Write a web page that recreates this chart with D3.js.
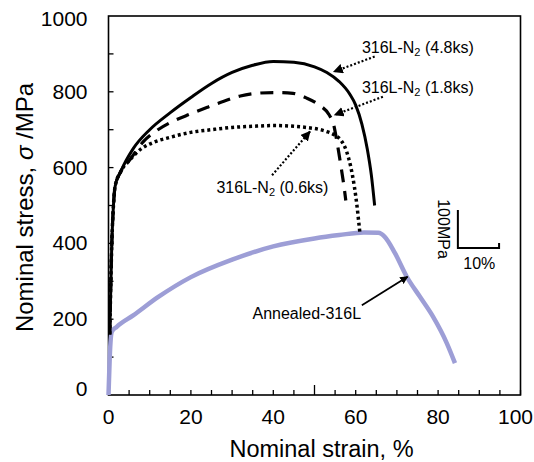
<!DOCTYPE html>
<html>
<head>
<meta charset="utf-8">
<script src="https://cdn.jsdelivr.net/npm/d3@7"></script>
<style>
  body { margin: 0; background: #fff; }
  text { font-family: "Liberation Sans", Arial, sans-serif; fill: #000; }
</style>
</head>
<body>
<svg id="chart" width="534" height="462"></svg>
<script>
// strain (%) / nominal stress (MPa)
var n48Strain = [0.3, 0.8, 1.2, 1.6, 3, 6, 10, 15, 20, 25, 30, 35, 40, 45, 50, 53, 56, 58.5, 60, 61.5, 62.8, 63.8, 64.6];
var n48Stress = [160, 400, 500, 550, 590, 650, 700, 745, 785, 822, 851, 870, 880, 878, 866, 851, 827, 795, 765, 715, 650, 580, 500];

var n18Strain = [0.3, 0.8, 1.2, 1.6, 3, 5, 8.4, 12, 15, 20, 24, 28, 32, 36, 40, 44.8, 48, 51, 53.5, 54.6, 55.5, 56.4, 57.1, 57.6];
var n18Stress = [160, 400, 500, 550, 590, 618, 668, 700, 719, 742, 759, 775, 789, 796, 798, 796, 784, 766, 740, 715, 665, 605, 555, 513];

var n06Strain = [0.3, 0.8, 1.2, 1.6, 3, 5, 8, 11, 15, 20, 25, 30, 35, 40, 45, 48, 51, 53, 55, 56.5, 57.8, 58.8, 59.7, 60.3, 60.8, 61];
var n06Stress = [160, 400, 500, 550, 590, 618, 650, 667, 680, 693, 700, 706, 709, 711, 709, 706, 701, 695, 685, 671, 642, 602, 548, 500, 450, 430];

var annStrain = [0, 0.3, 0.8, 2, 6, 12, 20, 30, 40, 50, 56, 62, 65.5, 67, 69.5, 72.4, 75.6, 78.8, 82.1, 84.1];
var annStress = [0, 100, 167, 180, 210, 258, 311, 357, 392, 413, 422, 429, 428, 418, 375, 312, 259, 206, 137, 84];

var xTicks = [0, 20, 40, 60, 80, 100];
var yTicks = [0, 200, 400, 600, 800, 1000];

var svg = d3.select("#chart"),
    pLeft = 108.5, pRight = 520.5, pTop = 16, pBottom = 395;

var x = d3.scaleLinear().domain([0, 100]).range([pLeft, pRight]);
var y = d3.scaleLinear().domain([0, 1000]).range([pBottom, pTop]);

function pts(xs, ys) { return xs.map(function(v, i) { return [v, ys[i]]; }); }

var line = d3.line()
    .x(function(d) { return x(d[0]); })
    .y(function(d) { return y(d[1]); })
    .curve(d3.curveMonotoneX);

// frame
svg.append("rect")
    .attr("x", pLeft).attr("y", pTop)
    .attr("width", pRight - pLeft).attr("height", pBottom - pTop)
    .attr("fill", "none").attr("stroke", "#000").attr("stroke-width", 1.6);

// inner ticks
svg.append("g").selectAll("line")
    .data(d3.range(0, 101, 5))
    .enter().append("line")
    .attr("x1", function(d) { return x(d); }).attr("x2", function(d) { return x(d); })
    .attr("y1", pBottom).attr("y2", function(d) { return pBottom - (d == 50 ? 10 : 5); })
    .attr("stroke", "#000").attr("stroke-width", 1.3);

svg.append("g").selectAll("line")
    .data(d3.range(100, 1000, 100))
    .enter().append("line")
    .attr("x1", pLeft).attr("x2", pLeft + 5)
    .attr("y1", function(d) { return y(d); }).attr("y2", function(d) { return y(d); })
    .attr("stroke", "#000").attr("stroke-width", 1.3);

// tick labels
svg.append("g").selectAll("text")
    .data(xTicks).enter().append("text")
    .attr("x", function(d) { return d == 100 ? 533 : x(d); })
    .attr("y", pBottom + 29)
    .attr("text-anchor", function(d) { return d == 100 ? "end" : "middle"; })
    .style("font-size", "21px")
    .text(function(d) { return d; });

svg.append("g").selectAll("text")
    .data(yTicks).enter().append("text")
    .attr("x", pLeft - 21)
    .attr("y", function(d) { return y(d) + 7 - (d == 0 ? 6 : 0) + (d == 1000 ? 3 : 0); })
    .attr("text-anchor", "end")
    .style("font-size", "21px")
    .text(function(d) { return d; });

// axis titles
svg.append("text")
    .attr("x", (pLeft + pRight) / 2 + 7).attr("y", 457)
    .attr("text-anchor", "middle")
    .style("font-size", "23.5px")
    .text("Nominal strain, %");

var yt = svg.append("text")
    .attr("transform", "translate(33," + ((pTop + pBottom) / 2 + 2) + ") rotate(-90)")
    .attr("text-anchor", "middle")
    .style("font-size", "24px");
yt.append("tspan").text("Nominal stress, ");
yt.append("tspan").style("font-style", "italic").text("σ");
yt.append("tspan").text(" /MPa");

// curves
svg.append("path").datum(pts(annStrain, annStress))
    .attr("d", line).attr("fill", "none")
    .attr("stroke", "#9d9ed6").attr("stroke-width", 4.5);

svg.append("path").datum(pts(n06Strain, n06Stress))
    .attr("d", line).attr("fill", "none")
    .attr("stroke", "#000").attr("stroke-width", 3.5)
    .attr("stroke-dasharray", "3,3");

svg.append("path").datum(pts(n18Strain, n18Stress))
    .attr("d", line).attr("fill", "none")
    .attr("stroke", "#000").attr("stroke-width", 3.2)
    .attr("stroke-dasharray", "13,9");

svg.append("path").datum(pts(n48Strain, n48Stress))
    .attr("d", line).attr("fill", "none")
    .attr("stroke", "#000").attr("stroke-width", 3);

// annotations: arrows in data units
var defs = svg.append("defs");
defs.append("marker")
    .attr("id", "head")
    .attr("viewBox", "0 0 10 10")
    .attr("refX", 9).attr("refY", 5)
    .attr("markerWidth", 4.5).attr("markerHeight", 4.5)
    .attr("markerUnits", "strokeWidth")
    .attr("orient", "auto")
    .append("path").attr("d", "M0,0L10,5L0,10z").attr("fill", "#000");

var arrows = [
  {from: [64.6, 893], to: [54.7, 853], dotted: true},
  {from: [66.6, 787], to: [54.9, 739], dotted: true},
  {from: [39.7, 580], to: [48.9, 695], dotted: true},
  {from: [61.5, 237], to: [72.6, 312], dotted: false}
];
svg.append("g").selectAll("line")
    .data(arrows).enter().append("line")
    .attr("x1", function(d) { return x(d.from[0]); })
    .attr("y1", function(d) { return y(d.from[1]); })
    .attr("x2", function(d) { return x(d.to[0]); })
    .attr("y2", function(d) { return y(d.to[1]); })
    .attr("stroke", "#000")
    .attr("stroke-width", function(d) { return d.dotted ? 2.2 : 1.8; })
    .attr("stroke-dasharray", function(d) { return d.dotted ? "2,2" : null; })
    .attr("marker-end", "url(#head)");

function n2Label(sx, sy, tail, anchor) {
  var t = svg.append("text")
      .attr("x", x(sx)).attr("y", y(sy) + 6)
      .attr("text-anchor", anchor || "start")
      .style("font-size", "16px");
  t.append("tspan").text("316L-N");
  t.append("tspan").attr("dy", 3).style("font-size", "11px").text("2");
  t.append("tspan").attr("dy", -3).text(" " + tail);
}
n2Label(61.5, 917, "(4.8ks)");
n2Label(61.5, 813, "(1.8ks)");
n2Label(26.2, 548, "(0.6ks)");

svg.append("text")
    .attr("x", x(61.3)).attr("y", y(216) + 6)
    .attr("text-anchor", "end")
    .style("font-size", "16px")
    .text("Annealed-316L");

// scale bar (10 % x 100 MPa)
var sb = svg.append("g");
sb.append("path")
    .attr("d", "M" + x(84.8) + "," + y(488) + "V" + y(388) + "H" + x(94.8) + "V" + (y(388) - 5))
    .attr("fill", "none").attr("stroke", "#000").attr("stroke-width", 2);
sb.append("text")
    .attr("transform", "translate(" + (x(84.8) - 20) + "," + y(438) + ") rotate(90)")
    .attr("text-anchor", "middle")
    .style("font-size", "16px")
    .text("100MPa");
sb.append("text")
    .attr("x", x(90)).attr("y", y(388) + 21)
    .attr("text-anchor", "middle")
    .style("font-size", "16px")
    .text("10%");
</script>
</body>
</html>
